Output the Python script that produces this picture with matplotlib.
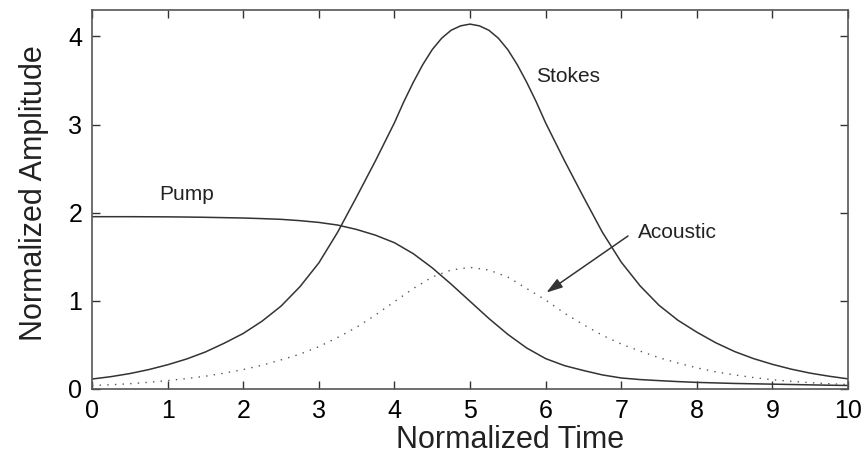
import numpy as np
import matplotlib
matplotlib.use("Agg")
import matplotlib.pyplot as plt

plt.rcParams['font.family'] = ['Liberation Sans', 'DejaVu Sans']

# values
t = np.arange(0, 10.01, 0.25)

pump = [1.955, 1.955, 1.955, 1.954, 1.953, 1.951, 1.948, 1.944, 1.94, 1.933,
        1.925, 1.91, 1.89, 1.86, 1.81, 1.745, 1.66, 1.535, 1.375, 1.19,
        0.995, 0.80, 0.62, 0.465, 0.345, 0.265, 0.21, 0.16, 0.125, 0.107,
        0.095, 0.084, 0.075, 0.069, 0.063, 0.059, 0.055, 0.051, 0.047, 0.043,
        0.04]

acoustic = [0.04, 0.048, 0.06, 0.076, 0.095, 0.118, 0.145, 0.18, 0.22, 0.27,
            0.33, 0.395, 0.48, 0.585, 0.70, 0.84, 0.99, 1.14, 1.27, 1.35,
            1.38, 1.35, 1.27, 1.14, 1.01, 0.86, 0.73, 0.61, 0.51, 0.43,
            0.355, 0.295, 0.24, 0.195, 0.16, 0.13, 0.105, 0.087, 0.072, 0.06,
            0.05]

# stokes is read more finely round its peak
t_stokes = [0, 0.25, 0.5, 0.75, 1, 1.25, 1.5, 1.75, 2, 2.25, 2.5, 2.75, 3, 3.25, 3.5, 3.75,
            4, 4.125, 4.25, 4.375, 4.5, 4.625, 4.75, 4.875, 5,
            5.125, 5.25, 5.375, 5.5, 5.625, 5.75, 5.875, 6,
            6.25, 6.5, 6.75, 7, 7.25, 7.5, 7.75, 8, 8.25, 8.5, 8.75, 9, 9.25, 9.5, 9.75, 10]
stokes = [0.113, 0.14, 0.175, 0.22, 0.275, 0.34, 0.42, 0.52, 0.63, 0.77, 0.94, 1.16, 1.43, 1.78, 2.18, 2.59,
          3.02, 3.26, 3.48, 3.68, 3.85, 3.98, 4.07, 4.12, 4.14,
          4.12, 4.07, 3.98, 3.85, 3.68, 3.48, 3.26, 3.02,
          2.59, 2.18, 1.78, 1.44, 1.17, 0.95, 0.78, 0.645, 0.525, 0.425, 0.345, 0.28, 0.225, 0.18, 0.145, 0.115]

fig = plt.figure(figsize=(8.62, 4.58), dpi=100)
ax = fig.add_axes([92/862, 1 - 389/458, (848 - 92)/862, (389 - 10)/458])

lc = '#333333'
ax.plot(t, pump, color=lc, lw=1.1)
ax.plot(t_stokes, stokes, color=lc, lw=1.1)
ax.plot(t, acoustic, color='#555555', lw=1.0, linestyle=(0, (1, 4.5)))

ax.set_xlim(0, 10)
ax.set_ylim(0, 4.3)
ax.set_xticks(range(0, 11))
ax.set_yticks(range(0, 5))
ax.tick_params(direction='in', top=True, right=True, length=5.5, width=1,
               color='#333333', labelsize=18, pad=7)
for s in ax.spines.values():
    s.set_color('#555555')
    s.set_linewidth(1.2)

ax.set_xlabel('Normalized Time', fontsize=22, color='#222222')
ax.xaxis.set_label_coords(0.553, -0.095)
ax.set_ylabel('Normalized Amplitude', fontsize=22, color='#222222')
ax.yaxis.set_label_coords(-0.057, 0.518)

ax.text(1.257, 2.14, 'Pump', fontsize=15, color='#222222', ha='center', va='baseline')
ax.text(6.30, 3.48, 'Stokes', fontsize=15, color='#222222', ha='center', va='baseline')
ax.text(7.74, 1.71, 'Acoustic', fontsize=15, color='#222222', ha='center', va='baseline')
ax.annotate('', xy=(6.01, 1.094), xytext=(7.09, 1.736),
            arrowprops=dict(arrowstyle='-|>,head_length=0.7,head_width=0.22',
                            color='#333333', lw=1.1,
                            mutation_scale=14, shrinkA=0, shrinkB=0))

fig.savefig('out.png', dpi=100)
